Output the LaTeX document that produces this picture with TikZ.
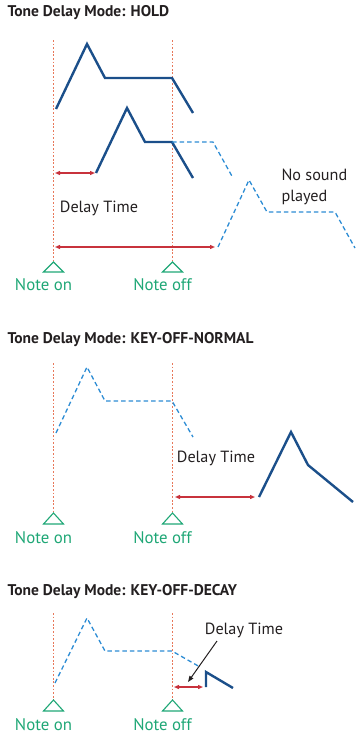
\documentclass[tikz,border=0pt]{standalone}
\usepackage{fontspec}
\setmainfont{PT Sans}
\usetikzlibrary{arrows.meta}

\definecolor{envblu}{HTML}{1B4F8A}
\definecolor{ghostblu}{HTML}{2C8CD4}
\definecolor{delayred}{HTML}{C8323C}
\definecolor{markorange}{HTML}{E8785A}
\definecolor{notegreen}{HTML}{1FA776}
\definecolor{inkgray}{HTML}{231F20}

\tikzset{
  envelope/.style={envblu, line width=2.4pt},
  ghost/.style={ghostblu, line width=1.3pt, dash pattern=on 4.5pt off 3pt},
  marker/.style={markorange, line width=1.3pt, dash pattern=on 1.8pt off 1.8pt},
  delayarrow/.style={delayred, line width=1.2pt, {Triangle[length=5pt,width=4pt]}-{Triangle[length=5pt,width=4pt]}},
  pointer/.style={inkgray, line width=1pt, -{Triangle[length=6pt,width=4.5pt]}},
  notetri/.style={notegreen, line width=1.1pt},
  notelabel/.style={notegreen, font=\fontsize{16.8}{18}\selectfont},
  paneltitle/.style={inkgray, anchor=west, font=\bfseries\fontsize{15.5}{17}\selectfont},
  textlabel/.style={inkgray, font=\fontsize{16.2}{21}\selectfont}
}

\begin{document}
\begin{tikzpicture}[x=1pt,y=-1pt]
        \useasboundingbox (0,0) rectangle (356,736);

        % Pannello HOLD
        \node[paneltitle] (t1) at (4,13) {Tone Delay Mode: HOLD};
        \foreach \x/\lab/\nm in {53.5/Note on/on,172.5/Note off/off} {
          \draw[marker] (\x,40) -- (\x,262); % linea nota
          \draw[notetri] (\x-10,272) -- (\x,262) -- (\x+10,272) -- cycle; % triangolo
          \node[notelabel] (\nm1) at (\x-10,285) {\lab};
        }
        \draw[envelope] (56,109) -- (87,44) -- (105,78) -- (172,78) -- (193,113);
        \draw[envelope] (96,173) -- (127,108) -- (145,142) -- (172,142) -- (193,178);
        \draw[ghost] (172,142) -- (213,142) -- (233,178);
        \draw[ghost] (218,247) -- (249,180) -- (267,212) -- (335,212) -- (355,248);
        \coordinate (d1a) at (55,173);
        \coordinate (d1b) at (95,173);
        \coordinate (d2a) at (55,247);
        \coordinate (d2b) at (215,247);
        \draw[delayarrow] (d1a) -- (d1b);
        \draw[delayarrow] (d2a) -- (d2b);
        \node[textlabel] (dt1) at (99,208) {Delay Time};
        \node[textlabel, anchor=west, align=left] (ns1) at (278,187) {No sound\\played};

        % Pannello KEY-OFF-NORMAL
        \node[paneltitle] (t2) at (4,340) {Tone Delay Mode: KEY-OFF-NORMAL};
        \foreach \x/\lab/\nm in {53.5/Note on/on,172.5/Note off/off} {
          \draw[marker] (\x,363) -- (\x,513); % linea nota
          \draw[notetri] (\x-10,524) -- (\x,513) -- (\x+10,524) -- cycle; % triangolo
          \node[notelabel] (\nm2) at (\x-10,538) {\lab};
        }
        \draw[ghost] (56,433) -- (87,367) -- (105,401) -- (172,401) -- (193,437);
        \draw[envelope] (259,497) -- (291,432) -- (308,465) -- (353,502);
        \coordinate (d3a) at (175,497);
        \coordinate (d3b) at (255,497);
        \draw[delayarrow] (d3a) -- (d3b);
        \node[textlabel] (dt2) at (216,458) {Delay Time};

        % Pannello KEY-OFF-DECAY
        \node[paneltitle] (t3) at (4,592) {Tone Delay Mode: KEY-OFF-DECAY};
        \foreach \x/\lab/\nm in {53.5/Note on/on,172.5/Note off/off} {
          \draw[marker] (\x,613) -- (\x,700); % linea nota
          \draw[notetri] (\x-10,711) -- (\x,700) -- (\x+10,711) -- cycle; % triangolo
          \node[notelabel] (\nm3) at (\x-10,725) {\lab};
        }
        \draw[ghost] (55,683) -- (87,618) -- (105,651) -- (172,651) -- (200,667);
        \draw[envelope] (206,687) -- (206,672) -- (233,688);
        \coordinate (d4a) at (174,687);
        \coordinate (d4b) at (203,687);
        \draw[delayarrow] (d4a) -- (d4b);
        \node[textlabel] (dt3) at (244,630) {Delay Time};
        \coordinate (p3) at (217,641);
        \coordinate (q3) at (188,682);
        \draw[pointer] (p3) -- (q3);
\end{tikzpicture}
\end{document}
